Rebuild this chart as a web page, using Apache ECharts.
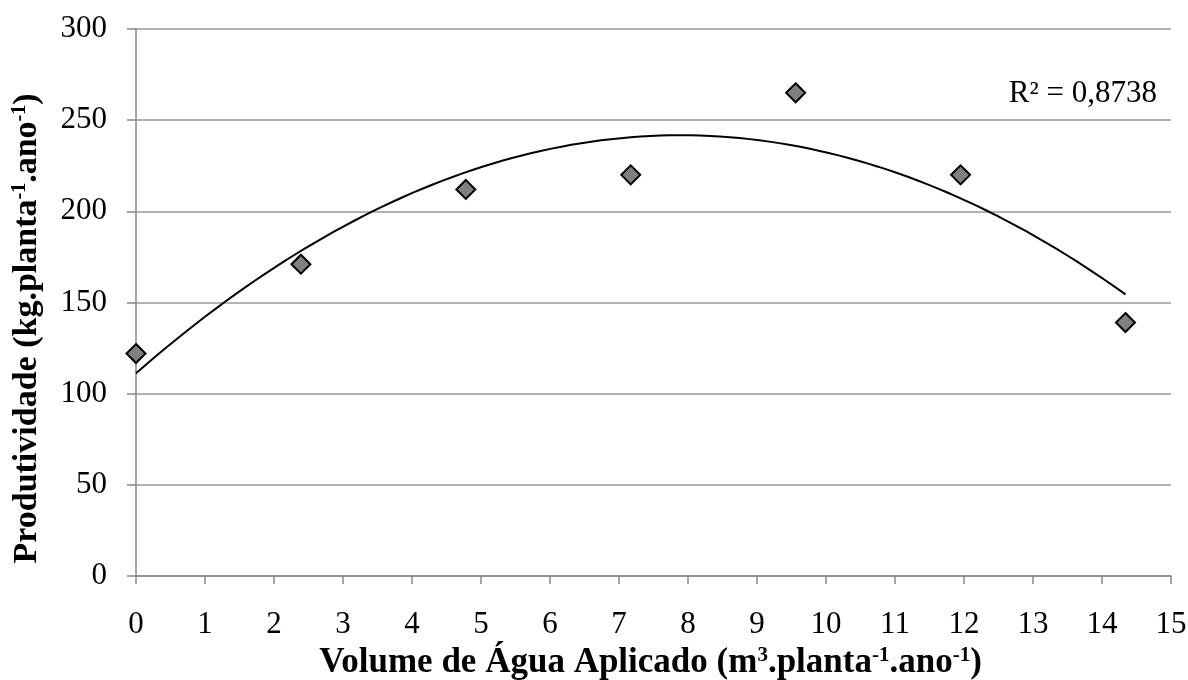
<!DOCTYPE html>
<html>
<head>
<meta charset="utf-8">
<script src="https://cdn.jsdelivr.net/npm/echarts@6/dist/echarts.min.js"></script>
<style>
html,body{margin:0;padding:0;background:#fff;}
#c{width:1188px;height:680px;}
</style>
</head>
<body>
<div id="c"></div>
<script>
// Data
const volume = [0, 2.39, 4.78, 7.17, 9.56, 11.95, 14.34];
const produtividade = [122, 171, 212, 220, 265, 220, 139];
const r2Label = 'R² = 0,8738';
const xMin = 0, xMax = 15, xStep = 1;
const yMin = 0, yMax = 300, yStep = 50;

// Quadratic least-squares trendline (as in the spreadsheet's polynomial trendline)
function polyFit2(xs, ys) {
  let S = [0,0,0,0,0], T = [0,0,0];
  for (let i = 0; i < xs.length; i++) {
    let p = 1;
    for (let k = 0; k < 5; k++) { S[k] += p; if (k < 3) T[k] += p * ys[i]; p *= xs[i]; }
  }
  const A = [[S[0],S[1],S[2],T[0]],[S[1],S[2],S[3],T[1]],[S[2],S[3],S[4],T[2]]];
  for (let i = 0; i < 3; i++) {
    for (let j = i + 1; j < 3; j++) {
      const f = A[j][i] / A[i][i];
      for (let k = i; k < 4; k++) A[j][k] -= f * A[i][k];
    }
  }
  const c = [0,0,0];
  for (let i = 2; i >= 0; i--) {
    let s = A[i][3];
    for (let k = i + 1; k < 3; k++) s -= A[i][k] * c[k];
    c[i] = s / A[i][i];
  }
  return c;
}
const coef = polyFit2(volume, produtividade);
const trend = [];
const x0 = volume[0], x1 = volume[volume.length - 1];
for (let i = 0; i <= 100; i++) {
  const x = x0 + (x1 - x0) * i / 100;
  trend.push([x, coef[0] + coef[1] * x + coef[2] * x * x]);
}

const serif = '"Liberation Serif", "Times New Roman", serif';
function richName(size) {
  return {
    b: {fontFamily: serif, fontWeight: 'bold', fontSize: size, color: '#000'},
    s: {fontFamily: serif, fontWeight: 'bold', fontSize: Math.round(size * 0.6), color: '#000', padding: [0,0,Math.round(size * 0.42),0]}
  };
}
const chart = echarts.init(document.getElementById('c'), null, {renderer: 'canvas'});
chart.setOption({
  backgroundColor: '#fff',
  animation: false,
  grid: {left: 136, right: 17, top: 29, bottom: 104, containLabel: false, outerBoundsMode: 'none'},
  xAxis: {
    type: 'value', min: xMin, max: xMax, interval: xStep,
    name: '{b|Volume de Água Aplicado (m}{s|3}{b|.planta}{s|-1}{b|.ano}{s|-1}{b|)}',
    nameLocation: 'middle', nameGap: 59,
    nameTextStyle: {rich: richName(35), padding: [0, 6, 0, 0]},
    axisLine: {show: true, lineStyle: {color: '#888', width: 1.5}},
    axisTick: {show: true, inside: false, length: 8, lineStyle: {color: '#888', width: 1.5}},
    axisLabel: {fontFamily: serif, fontSize: 31, color: '#000', margin: 33},
    splitLine: {show: false}
  },
  yAxis: {
    type: 'value', min: yMin, max: yMax, interval: yStep,
    name: '{b|Produtividade (kg.planta}{s|-1}{b|.ano}{s|-1}{b|)}',
    nameLocation: 'middle', nameGap: 92, nameRotate: 90,
    nameTextStyle: {rich: richName(34), padding: [0, 52, 0, 0]},
    axisLine: {show: true, lineStyle: {color: '#888', width: 1.5}},
    axisTick: {show: true, inside: false, length: 9, lineStyle: {color: '#888', width: 1.5}},
    axisLabel: {fontFamily: serif, fontSize: 31, color: '#000', margin: 29},
    splitLine: {show: true, lineStyle: {color: '#999', width: 1.5}}
  },
  series: [
    {
      type: 'line', data: trend, showSymbol: false, symbol: 'none', smooth: false,
      lineStyle: {color: '#000', width: 2}, z: 2, silent: true
    },
    {
      type: 'scatter', data: volume.map((x, i) => [x, produtividade[i]]),
      symbol: 'diamond', symbolSize: [19, 19],
      itemStyle: {color: '#808080', borderColor: '#000', borderWidth: 2, opacity: 1},
      z: 3
    }
  ],
  graphic: [{
    type: 'text', right: 31, top: 78,
    style: {text: r2Label, font: '31px ' + serif, fill: '#000'}
  }]
});
</script>
</body>
</html>
